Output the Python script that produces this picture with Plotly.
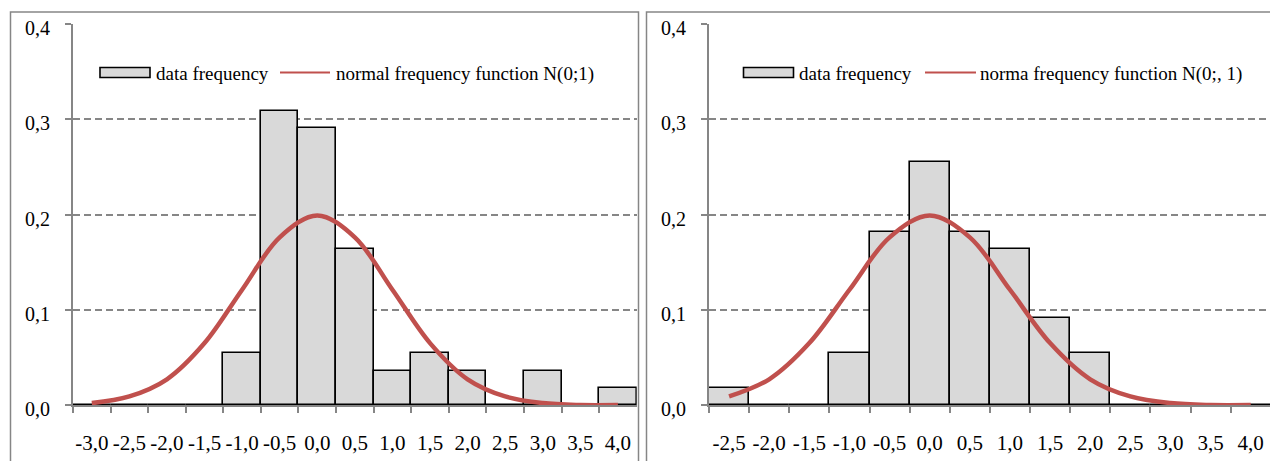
import plotly.graph_objects as go

W, H = 1270, 461

# ---- data ----
left_bins = ["-3,0", "-2,5", "-2,0", "-1,5", "-1,0", "-0,5", "0,0", "0,5",
             "1,0", "1,5", "2,0", "2,5", "3,0", "3,5", "4,0"]
left_freq = [0, 0, 0, 0, 0.055, 0.309, 0.291, 0.164, 0.036, 0.055, 0.036,
             0, 0.036, 0, 0.018]
left_normal = [0.002, 0.009, 0.027, 0.065, 0.121, 0.176, 0.199, 0.176,
               0.121, 0.065, 0.027, 0.009, 0.002, 0.000, 0.000]

right_bins = ["-2,5", "-2,0", "-1,5", "-1,0", "-0,5", "0,0", "0,5", "1,0",
              "1,5", "2,0", "2,5", "3,0", "3,5", "4,0"]
right_freq = [0.018, 0, 0, 0.055, 0.182, 0.255, 0.182, 0.164, 0.091, 0.055,
              0, 0, 0, 0]
right_normal = [0.009, 0.027, 0.065, 0.121, 0.176, 0.199, 0.176, 0.121,
                0.065, 0.027, 0.009, 0.002, 0.000, 0.000]

bar_name = "data frequency"
left_line_name = "normal frequency function N(0;1)"
right_line_name = "norma frequency function N(0;, 1)"

# ---- styles ----
FONT = "Liberation Serif"
GRAY = "#868686"
BAR_FILL = "#D9D9D9"
RED = "#C0504D"


def px(x):
    return x / W


def py(y):
    return 1 - y / H


fig = go.Figure()

fig.add_trace(go.Bar(x=left_bins, y=left_freq, name=bar_name,
                     marker=dict(color=BAR_FILL, line=dict(color="black", width=1.6)),
                     xaxis="x", yaxis="y", showlegend=False))
fig.add_trace(go.Scatter(x=left_bins, y=left_normal, name=left_line_name, mode="lines",
                         line=dict(color=RED, width=4.5, shape="spline", smoothing=1.0),
                         xaxis="x", yaxis="y", showlegend=False))
fig.add_trace(go.Bar(x=right_bins, y=right_freq, name=bar_name,
                     marker=dict(color=BAR_FILL, line=dict(color="black", width=1.6)),
                     xaxis="x2", yaxis="y2", showlegend=False))
fig.add_trace(go.Scatter(x=right_bins, y=right_normal, name=right_line_name, mode="lines",
                         line=dict(color=RED, width=4.5, shape="spline", smoothing=1.0),
                         xaxis="x2", yaxis="y2", showlegend=False))

xtickfont = dict(family=FONT, size=21, color="black")
ytickfont = dict(family=FONT, size=20, color="black")

xcommon = dict(type="category", tickson="boundaries", ticks="outside", ticklen=6,
               tickwidth=1.5, tickcolor=GRAY, showline=True, linecolor=GRAY,
               linewidth=2, showgrid=False, zeroline=False, tickfont=xtickfont,
               tickangle=0, automargin=False,
               ticklabelstandoff=18, fixedrange=True)
ycommon = dict(range=[0, 0.4], dtick=0.1, tick0=0, tickformat=".1f", ticks="outside",
               ticklen=6, tickwidth=1.5, tickcolor=GRAY, showline=True,
               linecolor=GRAY, linewidth=2, showgrid=True, gridcolor=GRAY,
               gridwidth=1.5, griddash="7px,4px", zeroline=False, automargin=False,
               tickfont=ytickfont, ticklabelstandoff=11, ticklabelshift=4,
               fixedrange=True)

fig.update_layout(
    width=W, height=H,
    margin=dict(l=0, r=0, t=0, b=0, pad=0, autoexpand=False),
    paper_bgcolor="white", plot_bgcolor="white",
    separators=", ",
    bargap=0,
    showlegend=False,
    xaxis=dict(domain=[px(73), px(636.7)], range=[-0.5, 14.5], anchor="y", **xcommon),
    yaxis=dict(domain=[py(405), py(24)], anchor="x", **ycommon),
    xaxis2=dict(domain=[px(709), 1.0], range=[-0.5, 13.48], anchor="y2", **xcommon),
    yaxis2=dict(domain=[py(405), py(24)], anchor="x2", **ycommon),
)

shapes = []
annotations = []

# chart borders (cut off by the picture at the bottom / right)
shapes.append(dict(type="rect", xref="paper", yref="paper",
                   x0=px(10.5), x1=px(638.5), y0=py(520), y1=py(12),
                   line=dict(color=GRAY, width=1.5), fillcolor="rgba(0,0,0,0)", layer="below"))
shapes.append(dict(type="rect", xref="paper", yref="paper",
                   x0=px(646.5), x1=px(1274), y0=py(520), y1=py(12),
                   line=dict(color=GRAY, width=1.5), fillcolor="rgba(0,0,0,0)", layer="below"))

legfont = dict(family=FONT, size=19, color="black")


def legend(box_x, text1_x, line_x0, line_x1, text2_x, line_name, ymid=72.5):
    shapes.append(dict(type="rect", xref="paper", yref="paper",
                       x0=px(box_x), x1=px(box_x + 50), y0=py(ymid + 5), y1=py(ymid - 5),
                       line=dict(color="black", width=1.6), fillcolor=BAR_FILL))
    shapes.append(dict(type="line", xref="paper", yref="paper",
                       x0=px(line_x0), x1=px(line_x1), y0=py(ymid), y1=py(ymid),
                       line=dict(color=RED, width=2)))
    annotations.append(dict(xref="paper", yref="paper", x=px(text1_x), y=py(ymid + 1),
                            xanchor="left", yanchor="middle", showarrow=False,
                            text=bar_name, font=legfont))
    annotations.append(dict(xref="paper", yref="paper", x=px(text2_x), y=py(ymid + 1),
                            xanchor="left", yanchor="middle", showarrow=False,
                            text=line_name, font=legfont))


legend(100, 154, 280, 330, 334, left_line_name)
legend(743.5, 797, 925, 976, 978, right_line_name)

fig.update_layout(shapes=shapes, annotations=annotations)

fig.write_html("out.html")
